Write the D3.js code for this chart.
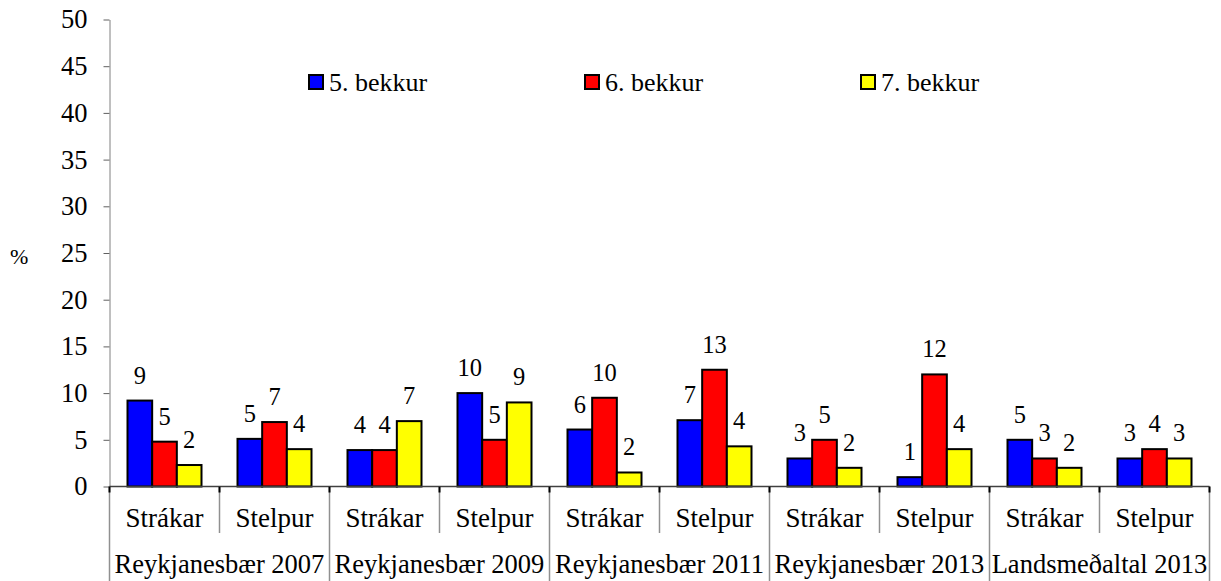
<!DOCTYPE html>
<html>
<head>
<meta charset="utf-8">
<script src="https://cdn.jsdelivr.net/npm/d3@7"></script>
<style>
  body { margin: 0; background: #fff; }
  svg text { font-family: "Liberation Serif", "DejaVu Serif", serif; fill: #000; }
</style>
</head>
<body>
<svg id="chart" width="1221" height="581"></svg>
<script>
var groups = ['Reykjanesbær 2007', 'Reykjanesbær 2009', 'Reykjanesbær 2011', 'Reykjanesbær 2013', 'Landsmeðaltal 2013'];
var genders = ['Strákar', 'Stelpur'];
var series = ['5. bekkur', '6. bekkur', '7. bekkur'];
var colors = ['#0000ff', '#ff0000', '#ffff00'];

// one value per category (group x gender)
var bekkur5 = [9.2, 5.1, 3.9, 10.0, 6.1, 7.1, 3.0, 1.0, 5.0, 3.0];
var bekkur6 = [4.8, 6.9, 3.9, 5.0, 9.5, 12.5, 5.0, 12.0, 3.0, 4.0];
var bekkur7 = [2.3, 4.0, 7.0, 9.0, 1.5, 4.3, 2.0, 4.0, 2.0, 3.0];
var yTicks = [0, 5, 10, 15, 20, 25, 30, 35, 40, 45, 50];

var values = [bekkur5, bekkur6, bekkur7];
var serif = '"Liberation Serif", "DejaVu Serif", serif';

var categories = [];
groups.forEach(function(g) {
    genders.forEach(function(s) {
        categories.push({ group: g, gender: s });
    });
});

var svg = d3.select('#chart').style('font-family', serif);
svg.append('rect').attr('width', 1221).attr('height', 581).attr('fill', '#fff');

var x = d3.scaleBand()
    .domain(d3.range(categories.length))
    .range([109.5, 1209.5]);

var x1 = d3.scaleBand()
    .domain(series)
    .range([18, 92]);

var y = d3.scaleLinear()
    .domain([0, 50])
    .range([486.5, 19.5]);

var y0 = y(0);

function label(sel, size) {
    return sel.style('font-family', serif).style('font-size', size + 'px');
}

// y axis
var yAxis = svg.append('g')
    .attr('transform', 'translate(109.5,0)')
    .call(d3.axisLeft(y).tickValues(yTicks).tickSize(6).tickSizeOuter(0).tickPadding(16));
yAxis.attr('font-family', serif).attr('font-size', 26);
yAxis.select('.domain').attr('stroke', '#808080');
yAxis.selectAll('.tick line').attr('stroke', '#606060');
label(yAxis.selectAll('.tick text'), 26.5);

label(svg.append('text'), 22)
    .attr('x', 10)
    .attr('y', 264)
    .text('%');

// bars
series.forEach(function(s, k) {
    svg.append('g').selectAll('rect')
        .data(values[k])
        .enter()
        .append('rect')
        .attr('x', function(d, i) { return x(i) + x1(s); })
        .attr('width', x1.bandwidth())
        .attr('y', function(d) { return y(d); })
        .attr('height', function(d) { return y0 - y(d); })
        .attr('fill', colors[k])
        .attr('stroke', '#000')
        .attr('stroke-width', 2);

    label(svg.append('g').selectAll('text')
        .data(values[k])
        .enter()
        .append('text'), 24.5)
        .attr('x', function(d, i) { return x(i) + x1(s) + x1.bandwidth() / 2; })
        .attr('y', function(d) { return y(d) - 17; })
        .attr('text-anchor', 'middle')
        .text(function(d) { return Math.round(d); });
});

// category axis
svg.append('line')
    .attr('x1', x.range()[0]).attr('x2', x.range()[1])
    .attr('y1', y0).attr('y2', y0)
    .attr('stroke', '#404040')
    .attr('stroke-width', 1.5);

var bounds = d3.range(categories.length + 1).map(function(i) {
    return i < categories.length ? x(i) : x.range()[1];
});

svg.append('g').selectAll('line')
    .data(bounds)
    .enter()
    .append('line')
    .attr('x1', function(d) { return d; })
    .attr('x2', function(d) { return d; })
    .attr('y1', y0)
    .attr('y2', function(d, i) { return i % 2 === 0 ? 581 : 533; })
    .attr('stroke', '#909090')
    .attr('stroke-width', 1.5);

svg.append('g').selectAll('line')
    .data(bounds)
    .enter()
    .append('line')
    .attr('x1', function(d) { return d; })
    .attr('x2', function(d) { return d; })
    .attr('y1', y0)
    .attr('y2', y0 + 6)
    .attr('stroke', '#000')
    .attr('stroke-width', 2);

label(svg.append('g').selectAll('text')
    .data(categories)
    .enter()
    .append('text'), 27)
    .attr('x', function(d, i) { return x(i) + x.bandwidth() / 2; })
    .attr('y', 527)
    .attr('text-anchor', 'middle')
    .text(function(d) { return d.gender; });

label(svg.append('g').selectAll('text')
    .data(groups)
    .enter()
    .append('text'), 26.5)
    .attr('x', function(d, i) { return x(i * 2) + x.bandwidth(); })
    .attr('y', 573)
    .attr('text-anchor', 'middle')
    .text(function(d) { return d; });

// legend
var legend = svg.append('g').selectAll('g')
    .data(series)
    .enter()
    .append('g')
    .attr('transform', function(d, k) { return 'translate(' + (309 + k * 276) + ',75)'; });

legend.append('rect')
    .attr('width', 14)
    .attr('height', 14)
    .attr('fill', function(d, k) { return colors[k]; })
    .attr('stroke', '#000')
    .attr('stroke-width', 2);

label(legend.append('text'), 26)
    .attr('x', 20)
    .attr('y', 16)
    .text(function(d) { return d; });
</script>
</body>
</html>
